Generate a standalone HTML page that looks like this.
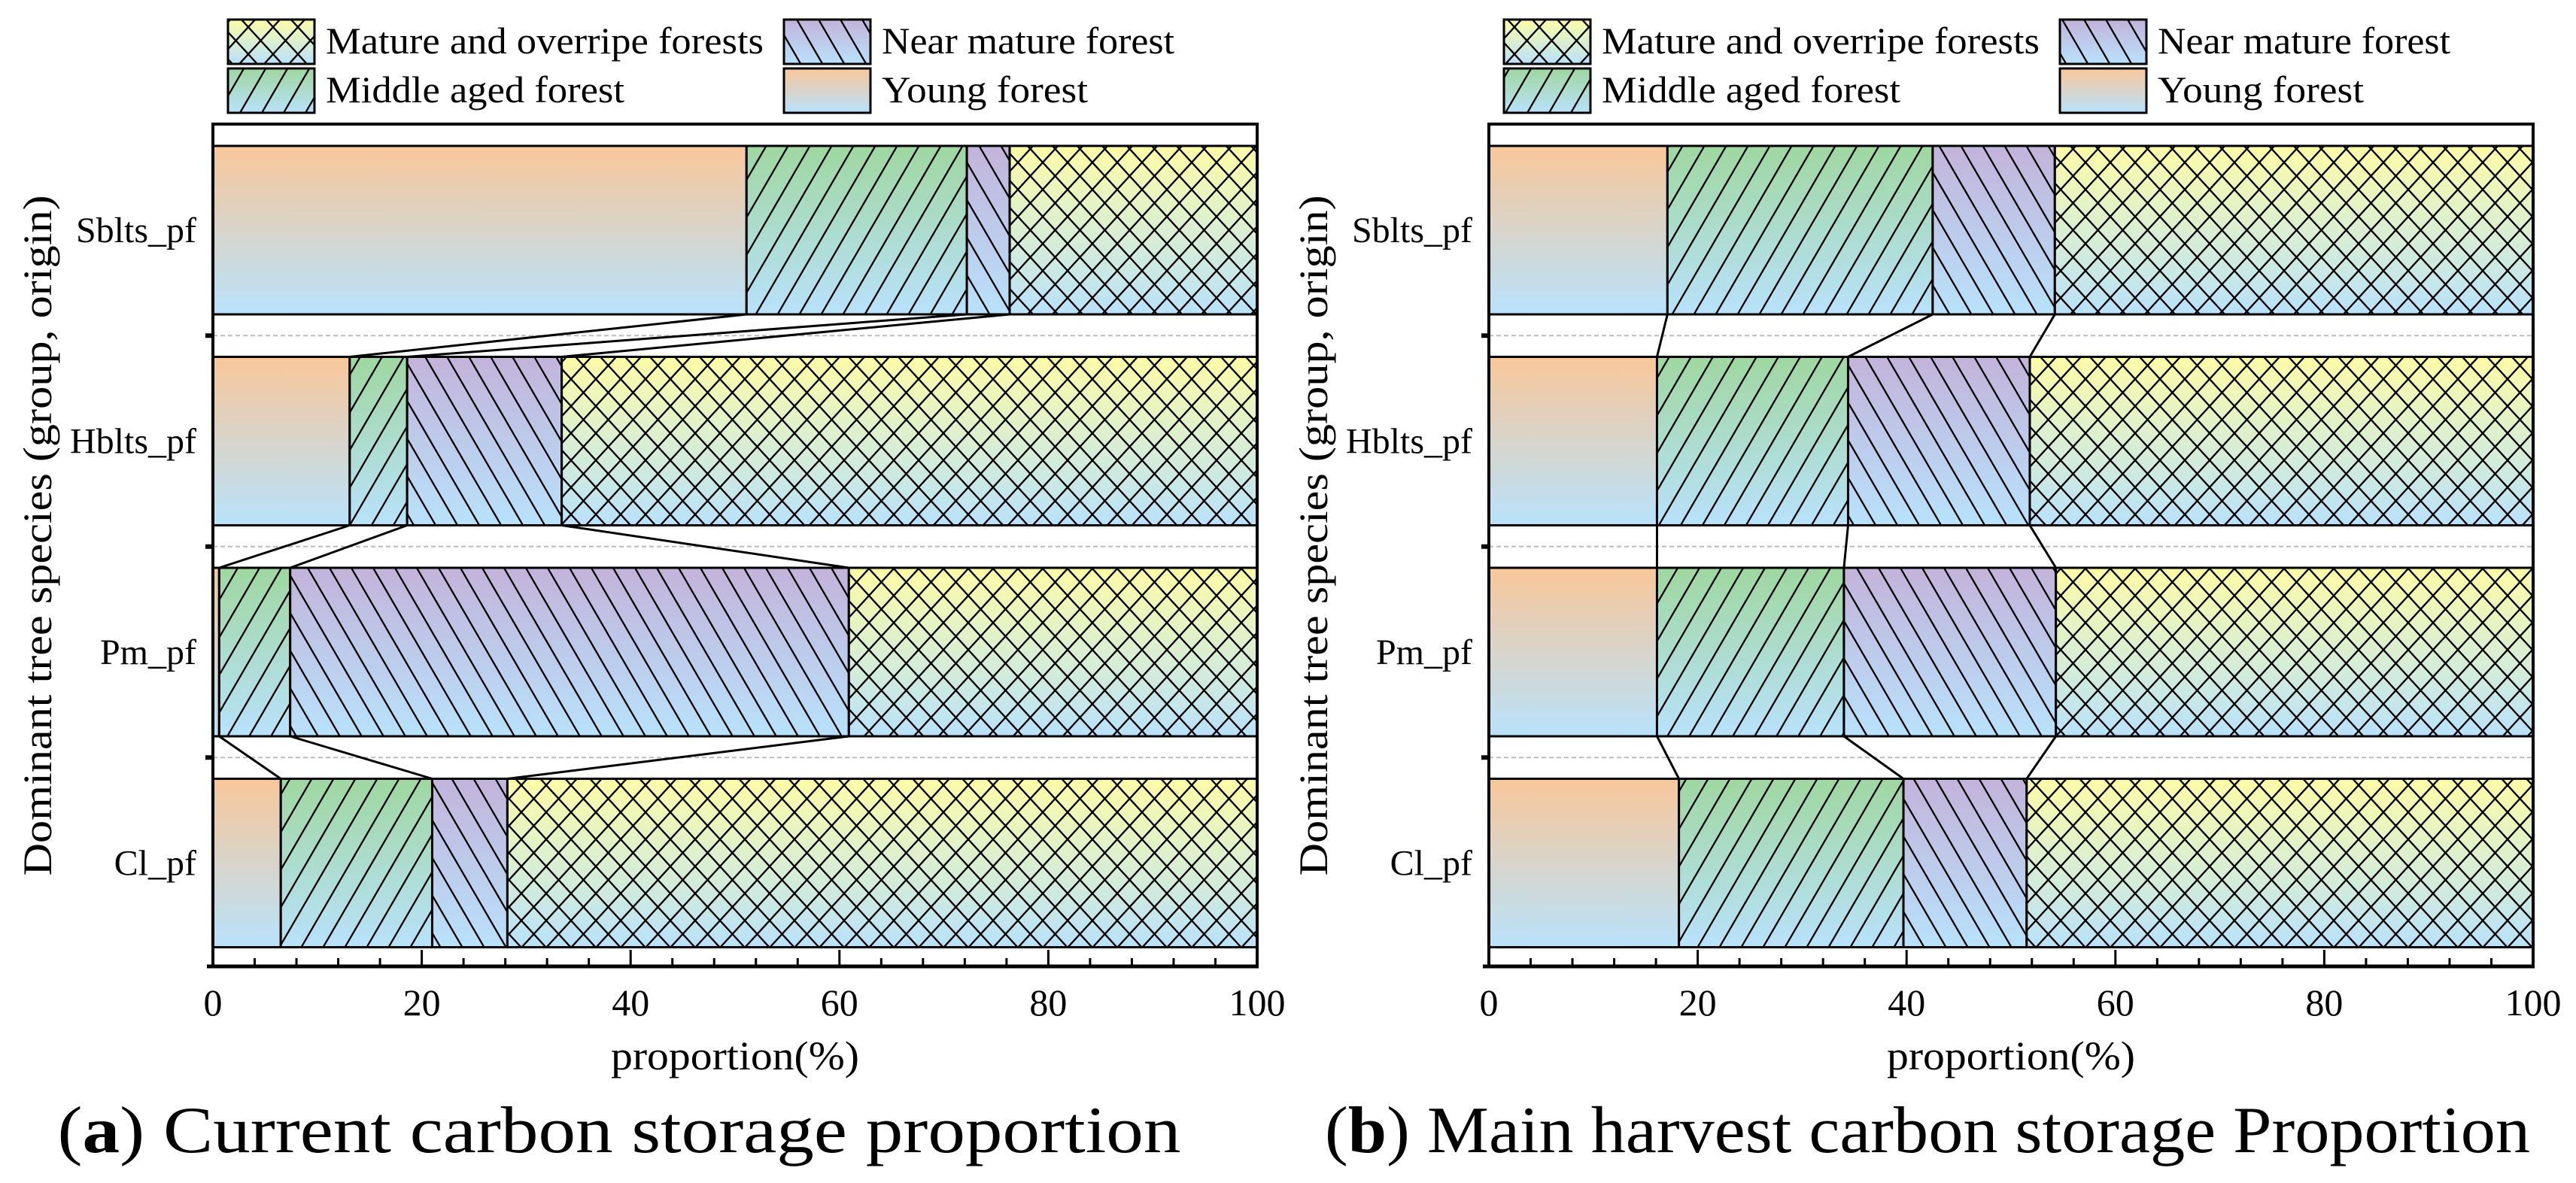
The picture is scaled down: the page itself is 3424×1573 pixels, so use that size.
<!DOCTYPE html>
<html><head><meta charset="utf-8"><style>
html,body{margin:0;padding:0;background:#fff;}
svg, svg text{font-family:"Liberation Serif",serif;}
svg{display:block;}
</style></head><body>
<svg id="fig" width="3424" height="1573" viewBox="0 0 3424 1573" xmlns="http://www.w3.org/2000/svg" font-family="Liberation Serif, serif">
<defs>
<linearGradient id="gY" x1="0" y1="0" x2="0" y2="1"><stop offset="0" stop-color="#f9c79a"/><stop offset="1" stop-color="#b8e2fb"/></linearGradient>
<linearGradient id="gM" x1="0" y1="0" x2="0" y2="1"><stop offset="0" stop-color="#9fd7a0"/><stop offset="1" stop-color="#b8e2fb"/></linearGradient>
<linearGradient id="gN" x1="0" y1="0" x2="0" y2="1"><stop offset="0" stop-color="#c3b3da"/><stop offset="1" stop-color="#b8e2fb"/></linearGradient>
<linearGradient id="gO" x1="0" y1="0" x2="0" y2="1"><stop offset="0" stop-color="#fdfca6"/><stop offset="1" stop-color="#b8e2fb"/></linearGradient>
<pattern id="pM" patternUnits="userSpaceOnUse" width="29" height="50"><path d="M-29,50 L29,-50 M0,50 L29,0 M0,100 L58,0 M-14.5,25 L0,0" stroke="#000" stroke-width="2.3"/></pattern>
<pattern id="pN" patternUnits="userSpaceOnUse" width="29" height="50"><path d="M0,0 L29,50 M-29,0 L29,100 M0,-50 L58,50" stroke="#000" stroke-width="2.3"/></pattern>
<pattern id="pO" patternUnits="userSpaceOnUse" width="33" height="36"><path d="M0,0 L33,36 M0,36 L33,0 M-33,0 L33,72 M0,-36 L66,36 M-33,36 L33,-36 M0,72 L66,0" stroke="#000" stroke-width="2.3"/></pattern>
</defs>
<g id="root"></g>
</svg>
<script>
const categories = ["Sblts_pf","Hblts_pf","Pm_pf","Cl_pf"];
const seriesNames = ["Young forest","Middle aged forest","Near mature forest","Mature and overripe forests"];
const currentYoung = [51.1, 13.1, 0.6, 6.5];
const currentMiddle = [21.1, 5.5, 6.8, 14.5];
const currentNear = [4.1, 14.8, 53.5, 7.2];
const currentMature = [23.7, 66.6, 39.1, 71.8];
const harvestYoung = [17.1, 16.1, 16.1, 18.2];
const harvestMiddle = [25.4, 18.3, 17.9, 21.5];
const harvestNear = [11.7, 17.4, 20.3, 11.8];
const harvestMature = [45.8, 48.2, 45.7, 48.5];
const xTicks = [0,20,40,60,80,100];
const captions = [["a"," Current carbon storage proportion"],["b"," Main harvest carbon storage Proportion"]];

const NS="http://www.w3.org/2000/svg";
const FF="Liberation Serif, serif";
const root=document.getElementById('root');
function mk(tag,attrs,parent){const e=document.createElementNS(NS,tag);for(const k in attrs)e.setAttribute(k,attrs[k]);if(tag==='text')e.setAttribute('font-family',FF);(parent||root).appendChild(e);return e;}
const fills=[["url(#gY)",null],["url(#gM)","url(#pM)"],["url(#gN)","url(#pN)"],["url(#gO)","url(#pO)"]];
const slugs=["young","middle","near-mature","mature"];

const barTop0=194, barStep=280.5, barH=224, frameTop=165, axisY=1285;
function yBand(i){return barTop0+i*barStep;}

function panel(off, data, pi){
  const x0=283+off, x1=1671+off;
  const xs=v=>x0+(x1-x0)*v/100;
  const g=mk('g',{});
  
  
  for(let i=0;i<categories.length-1;i++){
    const gy=yBand(i)+barH+(barStep-barH)/2;
    const l=mk('line',{x1:x0,x2:x1,y1:gy,y2:gy,stroke:'#bbb','stroke-width':2,'stroke-dasharray':'6,4'},g);
    
    
    const t=mk('line',{x1:x0-10,x2:x0,y1:gy,y2:gy,stroke:'#000','stroke-width':6},g);
    
    
  }
  for(let i=0;i<categories.length;i++){
    let cum=0; const y=yBand(i);
    for(let s=0;s<4;s++){
      const v=data[s][i];
      const a=xs(cum), b=xs(cum+v);
      const r=mk('rect',{x:a,y:y,width:Math.max(0,b-a),height:barH,fill:fills[s][0]},g);
      
      
      if(fills[s][1]) mk('rect',{x:a,y:y,width:Math.max(0,b-a),height:barH,fill:fills[s][1]},g);
      mk('rect',{x:a,y:y,width:Math.max(0,b-a),height:barH,fill:'none',stroke:'#000','stroke-width':3},g);
      cum+=v;
    }
    const lab=mk('text',{x:x0-22,y:y+barH/2+16,'text-anchor':'end','font-size':48},g);
    lab.textContent=categories[i];
    
    
  }
  for(let i=0;i<categories.length-1;i++){
    let c1=0,c2=0;
    for(let s=0;s<3;s++){
      c1+=data[s][i]; c2+=data[s][i+1];
      const l=mk('line',{x1:xs(c1),y1:yBand(i)+barH,x2:xs(c2),y2:yBand(i+1),stroke:'#000','stroke-width':3},g);
      
      
    }
  }
  const f=mk('path',{d:`M${x0},${axisY} L${x0},${frameTop} L${x1},${frameTop} L${x1},${axisY}`,fill:'none',stroke:'#000','stroke-width':4},g);
  
  
  const ax=mk('line',{x1:x0-8,x2:x1+2,y1:axisY,y2:axisY,stroke:'#000','stroke-width':5},g);
  
  
  for(let v=0;v<=100;v+=4){
    const maj=(v%20===0);
    mk('line',{x1:xs(v),x2:xs(v),y1:axisY,y2:axisY-(maj?22:11),stroke:'#000','stroke-width':3},g);
  }
  xTicks.forEach(v=>{
    const t=mk('text',{x:xs(v),y:1350,'text-anchor':'middle','font-size':50},g);
    t.textContent=v;
    
    
  });
  const xt=mk('text',{x:(x0+x1)/2,y:1422,'text-anchor':'middle','font-size':54,textLength:330,lengthAdjust:'spacingAndGlyphs'},g);
  xt.textContent='proportion(%)';
  
  
  const yt=mk('text',{x:0,y:0,'text-anchor':'middle','font-size':54,transform:`translate(${68+off},712) rotate(-90)`,textLength:905,lengthAdjust:'spacingAndGlyphs'},g);
  yt.textContent='Dominant tree species (group, origin)';
  
  
  const leg=[[3,303,26,582],[2,1042,26,389],[1,303,91,397],[0,1042,91,274]];
  leg.forEach(([s,lx,ly,tw])=>{
    const lg=mk('g',{},g);
    
    
    mk('rect',{x:lx+off,y:ly,width:115,height:59,fill:fills[s][0]},lg);
    if(fills[s][1]) mk('rect',{x:lx+off,y:ly,width:115,height:59,fill:fills[s][1]},lg);
    mk('rect',{x:lx+off,y:ly,width:115,height:59,fill:'none',stroke:'#000','stroke-width':3},lg);
    const t=mk('text',{x:lx+off+130,y:ly+45,'font-size':50,textLength:tw,lengthAdjust:'spacingAndGlyphs'},lg);
    t.textContent=seriesNames[s];
  });
  const cap=mk('text',{x:(pi===0?823:2562),y:1532,'text-anchor':'middle','font-size':88,textLength:(pi===0?1493:1602),lengthAdjust:'spacingAndGlyphs'},g);
  
  
  const s1=mk('tspan',{},cap); s1.textContent='(';
  const s2=mk('tspan',{'font-weight':'bold'},cap); s2.textContent=captions[pi][0];
  const s3=mk('tspan',{},cap); s3.textContent=')'+captions[pi][1];
}
panel(0,[currentYoung,currentMiddle,currentNear,currentMature],0);
panel(1696,[harvestYoung,harvestMiddle,harvestNear,harvestMature],1);
</script>
</body></html>
